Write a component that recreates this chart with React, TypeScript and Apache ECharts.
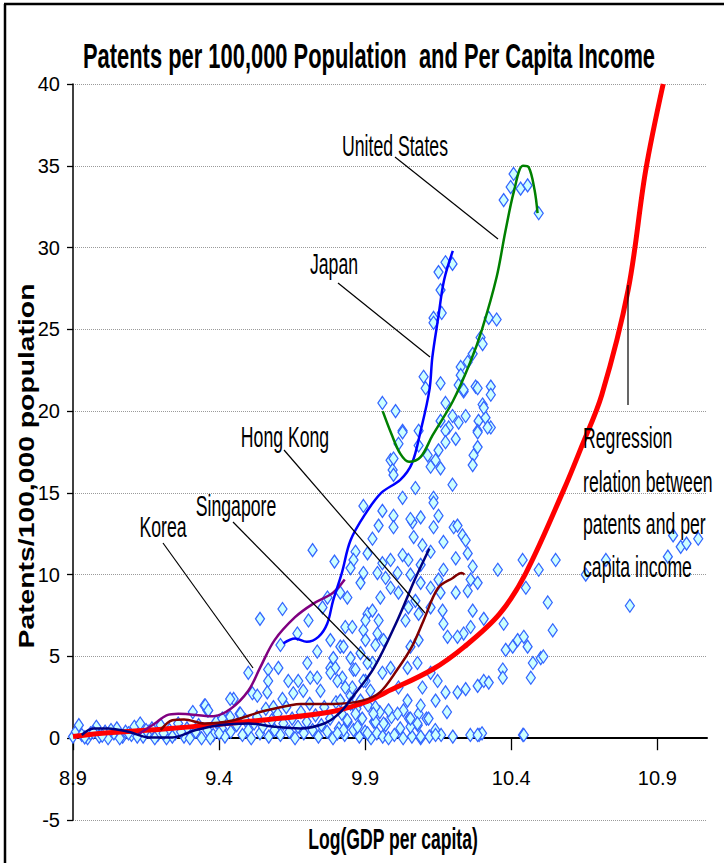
import React, { useEffect, useRef } from "react";
import * as echarts from "echarts";

// ---------- DATA ----------
const xTickValues = [8.9, 9.4, 9.9, 10.4, 10.9];

const scatterNearZero: [number, number][] = [
  [8.90, 0.1], [8.91, 0.4], [8.92, 0.8], [8.93, 0.2], [8.95, 0.0], [8.96, 0.3], [8.98, 0.7], [8.99, 0.1],
  [9.01, 0.4], [9.02, 0.0], [9.04, 0.3], [9.05, 0.6], [9.07, 0.1], [9.08, 0.4], [9.10, 0.2], [9.11, 0.7],
  [9.13, 0.9], [9.14, 0.1], [9.16, 0.4], [9.17, 0.6], [9.19, 0.2], [9.20, 0.8], [9.22, 0.0], [9.23, 0.5],
  [9.25, 0.3], [9.26, 0.9], [9.28, 0.1], [9.29, 0.6], [9.31, 1.6], [9.31, 0.3], [9.33, 0.8], [9.34, 0.0],
  [9.35, 2.0], [9.36, 1.7], [9.36, 0.5], [9.38, 0.2], [9.39, 1.0], [9.41, 0.6], [9.42, 0.1], [9.43, 1.2],
  [9.44, 0.4], [9.45, 2.4], [9.46, 0.8], [9.47, 1.5], [9.48, 0.2], [9.49, 1.1], [9.50, 0.5], [9.51, 0.0],
  [9.52, 0.9], [9.53, 1.3], [9.54, 0.3], [9.55, 0.7], [9.56, 1.8], [9.57, 0.1], [9.58, 1.1], [9.59, 0.5],
  [9.60, 1.5], [9.61, 0.2], [9.62, 0.9], [9.63, 1.9], [9.64, 0.4], [9.65, 1.2], [9.66, 0.0], [9.67, 0.7],
  [9.68, 1.6], [9.69, 0.3], [9.70, 1.0], [9.71, 2.1], [9.72, 0.5], [9.73, 1.4], [9.74, 0.1], [9.75, 0.8],
  [9.76, 1.9], [9.77, 0.4], [9.78, 1.2], [9.79, 0.0], [9.80, 2.2], [9.81, 0.6], [9.82, 1.5], [9.83, 0.2],
  [9.84, 1.0], [9.85, 2.6], [9.86, 0.5], [9.87, 1.8], [9.88, 0.1], [9.89, 1.2], [9.90, 0.4], [9.91, 2.0],
  [9.92, 0.0], [9.93, 1.0], [9.94, 0.3], [9.95, 1.6], [9.96, 0.1], [9.97, 0.8], [9.98, 0.0], [9.99, 1.3],
  [10.00, 0.2], [10.02, 0.6], [10.03, 0.0], [10.05, 1.2], [10.06, 0.1], [10.08, 0.8], [10.09, 0.0],
  [10.11, 1.2], [10.12, 0.1], [10.14, 0.5], [10.16, 0.2], [10.18, 1.6], [10.20, 0.1], [10.26, 0.2],
  [10.29, 0.2], [10.30, 0.3], [10.44, 0.2],
  [8.94, 0.05], [8.97, 0.35], [9.00, 0.15], [9.03, 0.5], [9.06, 0.0], [9.09, 0.3], [9.12, 0.1], [9.15, 0.5],
  [9.18, 0.0], [9.21, 0.3], [9.24, 0.1], [9.27, 0.4], [9.30, 0.0], [9.32, 0.4], [9.37, 0.0], [9.40, 0.3],
];

const scatterMidCloud: [number, number][] = [
  [9.50, 4.0], [9.54, 7.3], [9.617, 7.9], [9.668, 6.4], [9.706, 7.2], [9.754, 8.0], [9.771, 8.6], [9.815, 8.9],
  [9.839, 8.6], [9.884, 9.5], [9.514, 2.75], [9.531, 2.6], [9.568, 4.2], [9.568, 3.5], [9.565, 2.8], [9.603, 4.3],
  [9.586, 1.9], [9.637, 3.5], [9.617, 2.4], [9.654, 2.75], [9.671, 3.5], [9.688, 2.9], [9.702, 4.6], [9.712, 3.7],
  [9.736, 5.3], [9.747, 2.9], [9.736, 3.7], [9.781, 6.0], [9.781, 4.3], [9.791, 4.9], [9.815, 5.6], [9.822, 3.7],
  [9.832, 6.8], [9.850, 4.9], [9.856, 3.1], [9.860, 4.2], [9.884, 5.2], [9.894, 6.6], [9.908, 7.6], [9.901, 3.5],
  [9.918, 2.9], [9.925, 4.6], [9.935, 5.7], [9.935, 1.9], [9.353, 2.0], [9.363, 1.7], [9.438, 2.4], [9.438, 1.3],
  [9.473, 1.5], [9.411, 1.2], [9.61, 5.7], [9.72, 11.5],
  [9.894, 14.2], [9.959, 13.9], [9.997, 13.6], [9.997, 12.9], [9.946, 13.0], [9.925, 12.2], [10.062, 13.2],
  [10.090, 13.5], [10.066, 12.3], [10.096, 11.8], [10.134, 12.9], [10.151, 13.6], [10.134, 14.7], [10.168, 12.0],
  [10.203, 12.9], [10.216, 13.0], [10.233, 12.4], [10.244, 12.1], [10.251, 11.3], [10.210, 11.0], [10.168, 10.3],
  [10.124, 11.4], [10.090, 10.6], [10.048, 10.9], [10.028, 11.2], [9.987, 10.9], [9.959, 10.7], [9.908, 11.3],
  [9.867, 11.4], [9.860, 10.9], [9.795, 10.8], [9.850, 10.4], [9.894, 10.1], [9.942, 10.1], [9.970, 9.8],
  [10.011, 10.1], [10.055, 10.0], [10.090, 9.5], [10.124, 9.2], [10.151, 9.7], [10.158, 8.9], [10.210, 8.9],
  [10.251, 9.0], [10.261, 9.7], [10.285, 9.5], [10.268, 10.5], [10.354, 10.3], [10.439, 10.9], [10.494, 10.3],
  [10.552, 10.9], [10.450, 9.2], [10.525, 8.3], [10.542, 6.6], [10.374, 7.0], [10.306, 7.3], [10.268, 7.8],
  [10.261, 6.8], [10.237, 6.4], [10.216, 6.2], [10.182, 6.2], [10.168, 7.0], [10.165, 7.8], [10.124, 8.0],
  [10.072, 8.4], [10.083, 7.6], [10.048, 8.0], [10.038, 7.2], [10.014, 8.9], [9.987, 9.2], [9.952, 8.6],
  [9.901, 7.2], [9.925, 7.8], [9.946, 7.2], [9.942, 6.4], [9.963, 6.0], [9.901, 6.0], [9.856, 6.8], [9.826, 5.6],
  [9.798, 4.3], [9.867, 4.2], [9.908, 4.6], [9.894, 3.5], [9.959, 4.0], [9.987, 4.3], [10.014, 3.1], [10.045, 4.3],
  [10.055, 5.6], [10.083, 6.0], [10.079, 4.6], [10.096, 3.1], [10.124, 4.0], [10.148, 3.5], [10.141, 2.3],
  [10.175, 2.8], [10.216, 2.8], [10.244, 3.0], [10.285, 3.2], [10.306, 3.5], [10.323, 3.4], [10.371, 4.2],
  [10.371, 3.7], [10.381, 5.4], [10.405, 5.6], [10.422, 6.0], [10.443, 6.2], [10.456, 5.6], [10.467, 3.7],
  [10.474, 4.6], [10.501, 4.9], [10.443, 0.2], [10.285, 0.2], [10.141, 0.2], [10.090, 0.1], [10.117, 1.2],
  [10.083, 1.5], [10.090, 2.0], [10.055, 0.7], [10.031, 1.7], [10.045, 2.3], [10.011, 1.5], [9.980, 1.7],
  [9.963, 0.9], [9.935, 1.0], [9.928, 1.5], [9.908, 0.3], [9.874, 0.7], [9.826, 0.5], [9.839, 1.1], [9.805, 0.3],
  [9.867, 1.5], [9.884, 2.3], [9.850, 2.1], [9.815, 2.3], [9.832, 3.1], [9.805, 3.5], [9.781, 4.0], [10.055, 1.2],
  [10.079, 0.9],
];

const scatterUpper: [number, number][] = [
  [9.959, 20.5], [10.004, 20.0], [10.028, 18.8], [10.014, 18.0], [9.987, 17.0], [9.994, 16.4], [9.997, 16.1],
  [10.072, 15.3], [10.028, 14.7], [9.997, 17.1], [10.055, 13.4],
  [10.158, 21.7], [10.220, 21.6], [10.278, 21.5], [10.330, 21.5], [10.330, 21.0], [10.237, 21.2], [10.302, 20.4],
  [10.288, 19.4], [10.312, 19.6], [10.330, 19.0], [10.285, 18.8], [10.285, 17.8], [10.271, 17.3], [10.268, 16.7],
  [10.175, 20.5], [10.199, 19.7], [10.220, 19.3], [10.186, 19.0], [10.175, 18.8], [10.210, 18.3], [10.175, 18.1],
  [10.151, 17.6], [10.141, 17.0], [10.124, 16.6], [10.158, 16.5], [10.199, 15.5], [10.134, 14.4], [10.114, 17.3],
  [10.083, 18.8], [10.083, 17.9],
  [10.408, 34.5], [10.398, 33.7], [10.432, 33.6], [10.456, 33.8], [10.374, 32.9], [10.494, 32.1],
  [10.199, 29.0], [10.175, 29.1], [10.151, 28.5], [10.158, 27.4], [10.162, 26.0], [10.134, 25.7], [10.134, 25.4],
  [10.323, 25.7], [10.350, 25.6], [10.295, 24.5], [10.302, 24.1], [10.268, 23.5], [10.251, 23.0], [10.227, 22.7],
  [10.227, 22.2], [10.237, 21.3], [10.285, 21.4], [10.306, 20.2], [10.319, 19.0], [10.285, 18.7], [10.244, 19.7],
  [10.158, 19.4], [10.100, 22.1], [10.107, 21.4], [10.028, 18.7],
];

const scatterOutliers: [number, number][] = [
  [10.51, 5.0], [10.655, 10.0], [10.724, 10.9], [10.806, 8.1], [10.936, 11.1], [10.954, 12.4],
  [10.98, 11.7], [11.0, 11.9], [11.04, 12.2],
];

const regressionCurve: [number, number][] = [
  [8.9, 0.1], [9.0, 0.3], [9.2, 0.55], [9.4, 0.85], [9.6, 1.2], [9.78, 1.6], [9.9, 2.2], [9.97, 2.8],
  [10.13, 4.2], [10.24, 5.6], [10.36, 7.6], [10.45, 10.1], [10.58, 15.2], [10.64, 17.8], [10.71, 21.0],
  [10.8, 27.4], [10.86, 34.7], [10.92, 40],
];

const unitedStates: [number, number][] = [
  [9.96, 20.0], [9.99, 18.6], [10.02, 17.4], [10.05, 16.9], [10.09, 17.2], [10.13, 18.5], [10.2, 20.6],
  [10.26, 23.0], [10.3, 25.0], [10.35, 28.2], [10.38, 31.0], [10.41, 33.5], [10.44, 35.0], [10.46, 34.9],
  [10.48, 33.5], [10.49, 32.1],
];

const japan: [number, number][] = [
  [9.62, 5.8], [9.66, 6.1], [9.7, 5.9], [9.74, 6.2], [9.77, 7.0], [9.79, 8.4], [9.82, 10.1], [9.85, 12.1],
  [9.9, 13.7], [9.955, 15.0], [10.02, 15.8], [10.06, 16.8], [10.09, 18.8], [10.12, 21.3], [10.13, 23.3],
  [10.15, 25.7], [10.17, 28.0], [10.2, 29.8],
];

const korea: [number, number][] = [
  [9.12, 0.2], [9.18, 0.9], [9.22, 1.4], [9.26, 1.5], [9.38, 1.35], [9.44, 1.8], [9.5, 2.9], [9.54, 4.3],
  [9.59, 6.0], [9.66, 7.4], [9.72, 8.2], [9.79, 8.9], [9.83, 9.7],
];

const singapore: [number, number][] = [
  [9.2, 0.5], [9.24, 1.1], [9.28, 1.15], [9.35, 0.9], [9.45, 1.1], [9.54, 1.6], [9.64, 2.0], [9.68, 2.1],
  [9.79, 2.1], [9.89, 2.3], [9.95, 2.8], [10.01, 4.2], [10.06, 5.6], [10.1, 7.2], [10.15, 9.2], [10.2, 9.8],
  [10.23, 10.1], [10.24, 10.0],
];

const hongKong: [number, number][] = [
  [8.93, 0.2], [8.97, 0.6], [9.02, 0.6], [9.09, 0.4], [9.16, 0.05], [9.24, 0.05], [9.32, 0.5], [9.4, 0.8],
  [9.5, 0.9], [9.59, 0.7], [9.68, 0.6], [9.76, 0.9], [9.81, 1.5], [9.86, 2.6], [9.93, 4.3], [10.01, 7.2],
  [10.07, 9.7], [10.12, 11.6],
];

const titleText = "Patents per 100,000 Population  and Per Capita Income";
const xAxisTitle = "Log(GDP per capita)";
const yAxisTitle = "Patents/100,000 population";
const regressionNote = ["Regression", "relation between", "patents and per", "capita income"];

// ---------- COMPONENT ----------
const FONT = "'Liberation Sans', Arial, sans-serif";
const NARROW = "'Liberation Sans Narrow', 'Arial Narrow', 'Liberation Sans', Arial, sans-serif";

export default function App() {
  const ref = useRef<HTMLDivElement>(null);

  useEffect(() => {
    document.body.style.margin = "0";
    const el = ref.current;
    if (!el) return;
    const chart = echarts.init(el, null, { renderer: "svg" });

    const ctx = document.createElement("canvas").getContext("2d")!;
    const measure = (text: string, weight: string, size: number) => {
      ctx.font = `${weight} ${size}px ${FONT}`;
      return ctx.measureText(text).width;
    };

    const fitText = (
      text: string, cx: number, cy: number, size: number, weight: string, width: number,
      align: string = "center", rotation = 0
    ) => {
      const s = width / measure(text, weight, size);
      return {
        type: "text",
        x: cx, y: cy, rotation, scaleX: s, scaleY: 1, z: 100,
        style: {
          text, fontSize: size, fontFamily: FONT, fontWeight: weight, fill: "#000",
          align, verticalAlign: "middle",
        },
      };
    };

    const annSize = 29;
    const annScale = 106 / measure("United States", "normal", annSize);
    const annText = (text: string, cx: number, cy: number, align = "center") => ({
      type: "text", x: cx, y: cy, scaleX: annScale, scaleY: 1, z: 100,
      style: { text, fontSize: annSize, fontFamily: FONT, fill: "#000", align, verticalAlign: "middle" },
    });
    const leader = (x1: number, y1: number, x2: number, y2: number) => ({
      type: "line", z: 99, shape: { x1, y1, x2, y2 }, style: { stroke: "#000", lineWidth: 1.2 },
    });

    const scatterStyle = {
      type: "scatter",
      symbol: "diamond",
      symbolSize: [9, 13],
      itemStyle: { color: "#ccffff", borderColor: "#3366ff", borderWidth: 1.3, opacity: 1 },
      silent: true,
      z: 2,
    };
    const lineSeries = (name: string, data: [number, number][], color: string, width: number, z: number) => ({
      name, type: "line", data, showSymbol: false, smooth: 0.35, z,
      lineStyle: { color, width }, itemStyle: { color }, silent: true,
    });

    chart.setOption({
      animation: false,
      backgroundColor: "#fff",
      grid: { left: 73, top: 84, width: 634, height: 736, containLabel: false },
      xAxis: {
        type: "value", min: 8.9, max: 11.07,
        axisLine: { onZero: true, lineStyle: { color: "#000", width: 2 } },
        axisTick: { show: true, length: 12, inside: false, customValues: xTickValues, lineStyle: { color: "#000", width: 1.3 } },
        axisLabel: {
          customValues: xTickValues, margin: -52, color: "#000", fontSize: 20, fontFamily: NARROW,
          formatter: (v: number) => v.toFixed(1),
        },
        splitLine: { show: false },
      },
      yAxis: {
        type: "value", min: -5, max: 40, interval: 5,
        axisLine: { show: true, onZero: false, lineStyle: { color: "#000", width: 1.5 } },
        axisTick: { show: true, length: 6, inside: false, lineStyle: { color: "#000", width: 1.3 } },
        axisLabel: { margin: 13, color: "#000", fontSize: 20, fontFamily: NARROW },
        splitLine: { show: true, lineStyle: { color: "#9a9a9a", width: 1, type: "dotted" } },
      },
      series: [
        { ...scatterStyle, name: "Countries near zero", data: scatterNearZero },
        { ...scatterStyle, name: "Countries mid", data: scatterMidCloud },
        { ...scatterStyle, name: "Countries upper", data: scatterUpper },
        { ...scatterStyle, name: "Countries outliers", data: scatterOutliers },
        lineSeries("Regression", regressionCurve, "#ff0000", 5, 3),
        lineSeries("Singapore", singapore, "#800000", 2.5, 4),
        lineSeries("Korea", korea, "#800080", 2.5, 4),
        lineSeries("Hong Kong", hongKong, "#000080", 2.5, 5),
        lineSeries("Japan", japan, "#0000ff", 2.5, 5),
        lineSeries("United States", unitedStates, "#008000", 2.5, 5),
      ],
      graphic: [
        { type: "line", z: 100, shape: { x1: 4, y1: 4, x2: 724, y2: 4 }, style: { stroke: "#000", lineWidth: 2.5 } },
        { type: "line", z: 100, shape: { x1: 5, y1: 4, x2: 5, y2: 863 }, style: { stroke: "#000", lineWidth: 2.5 } },
        fitText(titleText, 369, 56, 35, "bold", 572),
        fitText(xAxisTitle, 393, 839, 30, "bold", 170),
        fitText(yAxisTitle, 26, 466, 22, "bold", 365, "center", Math.PI / 2),
        annText("United States", 395, 146),
        leader(395, 157, 498, 239),
        annText("Japan", 334, 264),
        leader(338, 283, 430, 357),
        annText("Hong Kong", 285, 437),
        leader(284, 450, 425, 613),
        annText("Singapore", 236, 506),
        leader(233, 522, 370, 661),
        annText("Korea", 163, 527),
        leader(163, 543, 253, 668),
        leader(628, 285, 628, 405),
        annText(regressionNote[0], 583, 438, "left"),
        annText(regressionNote[1], 583, 482, "left"),
        annText(regressionNote[2], 583, 524, "left"),
        annText(regressionNote[3], 583, 567, "left"),
      ],
    });

    return () => chart.dispose();
  }, []);

  return <div ref={ref} style={{ width: 724, height: 863 }} />;
}
